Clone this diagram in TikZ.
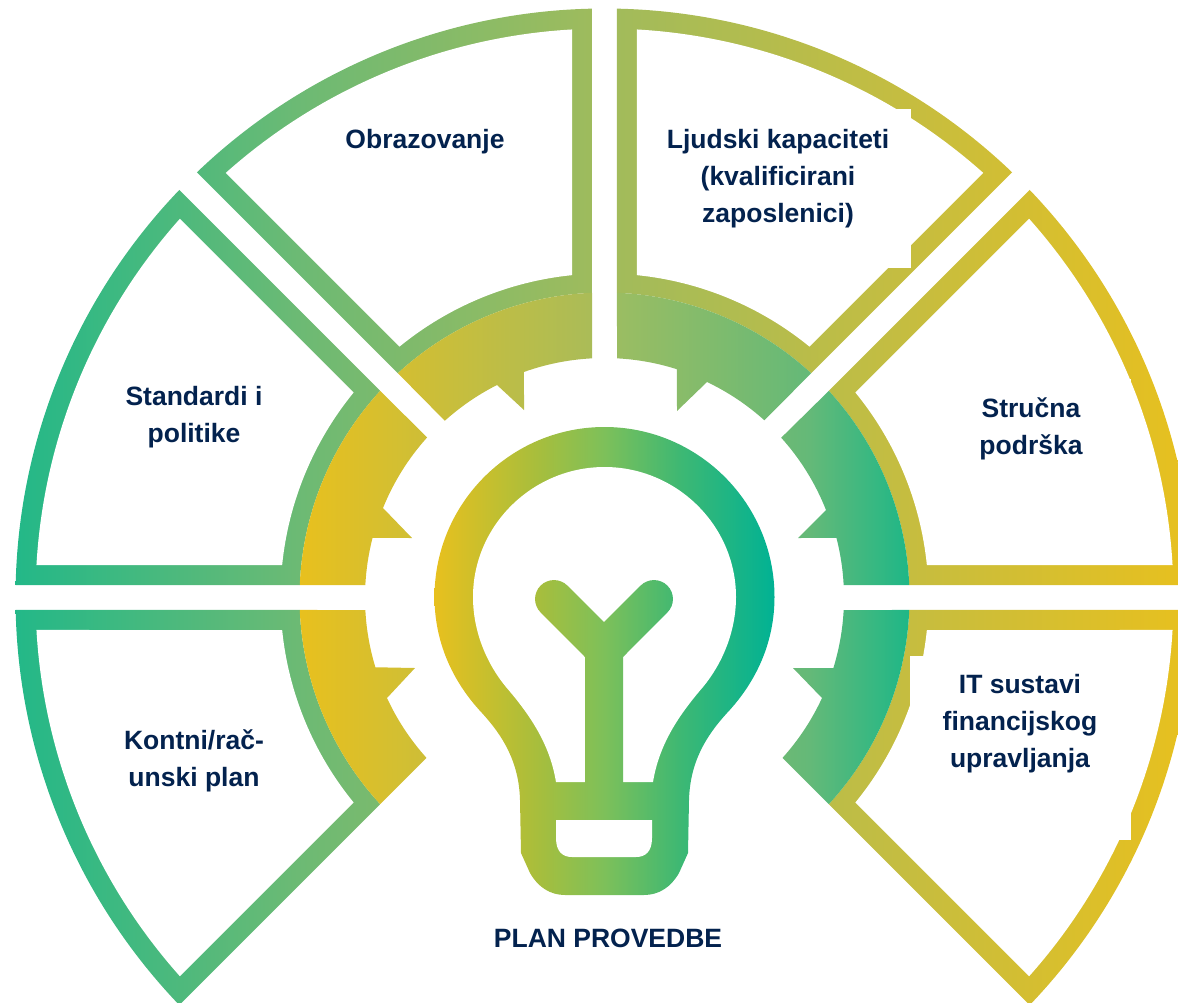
\documentclass[tikz,border=0pt]{standalone}
\usepackage{fontspec}
\setmainfont{Liberation Sans}
\definecolor{navy}{RGB}{3,34,78}
\definecolor{fa}{RGB}{35,184,136}
\definecolor{fb}{RGB}{108,186,116}
\definecolor{fc}{RGB}{160,187,92}
\definecolor{fd}{RGB}{195,189,66}
\definecolor{fe}{RGB}{232,192,30}
\definecolor{ga}{RGB}{232,192,30}
\definecolor{gb}{RGB}{170,188,88}
\definecolor{gc}{RGB}{155,189,98}
\definecolor{gd}{RGB}{100,185,120}
\definecolor{ge}{RGB}{30,183,135}
\definecolor{ba}{RGB}{232,192,30}
\definecolor{bb}{RGB}{168,190,60}
\definecolor{bc}{RGB}{125,192,90}
\definecolor{bd}{RGB}{62,184,115}
\definecolor{be}{RGB}{0,178,148}
\pgfdeclarehorizontalshading{framegrad}{100bp}{
  color(0bp)=(fa); color(25bp)=(fa); color(37bp)=(fb);
  color(50bp)=(fc); color(62bp)=(fd); color(75bp)=(fe); color(100bp)=(fe)}
\pgfdeclarehorizontalshading{geargrad}{100bp}{
  color(0bp)=(ga); color(25bp)=(ga); color(49bp)=(gb);
  color(51bp)=(gc); color(66.8bp)=(gd); color(75bp)=(ge); color(100bp)=(ge)}
\pgfdeclarehorizontalshading{bulbgrad}{100bp}{
  color(0bp)=(ba); color(25bp)=(ba); color(40bp)=(bb);
  color(50bp)=(bc); color(61bp)=(bd); color(75bp)=(be); color(100bp)=(be)}
\tikzset{
  lbl/.style={text=navy,font=\fontsize{26.5}{37}\selectfont\bfseries,align=center,inner sep=0pt},
  blank/.style={fill=white,draw=none}
}
% annular sector: #1,#2 angles, #3 outer radius, #4 inner radius, #5 offset from the axis
\newcommand\sect[5]{
  ({#3*cos(#1+asin(#5/#3))},{#3*sin(#1+asin(#5/#3))})
  arc[start angle={#1+asin(#5/#3)},end angle={#2-asin(#5/#3)},radius=#3 pt]
  -- ({#4*cos(#2-asin(#5/#4))},{#4*sin(#2-asin(#5/#4))})
  arc[start angle={#2-asin(#5/#4)},end angle={#1+asin(#5/#4)},radius=#4 pt]
  -- cycle}
\newcommand\frameseg[2]{
  \begin{scope}\clip \sect{#1}{#2}{589}{305}{12.5};
    \shade[shading=framegrad] (-590,-600) rectangle (590,600);
  \end{scope}
  \fill[blank] \sect{#1}{#2}{569}{324}{32.5};}
% gear piece: #1 axis angle, #2 diagonal angle, #3 sign, #4..#9 tooth points
\newcommand\gearseg[9]{
  \begin{scope}\clip
    ({239.5*cos(#1+#3*asin(12.5/239.5))},{239.5*sin(#1+#3*asin(12.5/239.5))})
    arc[start angle={#1+#3*asin(12.5/239.5)},end angle={atan2(#5,#4)},radius=239.5pt]
    -- (#6,#7) -- (#8,#9)
    arc[start angle={atan2(#9,#8)},end angle={#2-#3*asin(12.5/239.5)},radius=239.5pt]
    -- ({305*cos(#2-#3*asin(12.5/305))},{305*sin(#2-#3*asin(12.5/305))})
    arc[start angle={#2-#3*asin(12.5/305)},end angle={#1+#3*asin(12.5/305)},radius=305pt]
    -- cycle;
    \shade[shading=geargrad] (-305,-600) rectangle (305,600);
  \end{scope}}
\begin{document}
\begin{tikzpicture}[x=1pt,y=-1pt]
\useasboundingbox (0,0) rectangle (1178,1002);
\clip (0,0) rectangle (1178,1002);
\begin{scope}[shift={(604.5,597.5)},y=1pt]
  \frameseg{-45}{0}
  \frameseg{0}{45}
  \frameseg{45}{90}
  \frameseg{90}{135}
  \frameseg{135}{180}
  \frameseg{180}{225}
  \gearseg{0}{45}{1}{231.5}{59.5}{193.5}{59.5}{221.5}{87.5}
  \gearseg{90}{45}{-1}{72.5}{228.5}{72.5}{186.5}{102.5}{215.5}
  \gearseg{90}{135}{1}{-80.5}{225.5}{-80.5}{187.5}{-107.5}{212.5}
  \gearseg{180}{135}{-1}{-231.5}{59.5}{-192.5}{59.5}{-221.5}{89.5}
  \gearseg{-180}{-135}{1}{-231.5}{-70.5}{-189.5}{-70.5}{-217.5}{-100.5}
  \gearseg{0}{-45}{-1}{228.5}{-70.5}{188.5}{-70.5}{217.5}{-100.5}
\end{scope}
% white boxes behind the labels
\fill[blank] (700,109) rectangle (911,268);
\fill[blank] (910,656) rectangle (1131,840);
\fill[blank] (1000,379) rectangle (1131,500);
% bulb
\begin{scope}
  \clip (604.5,427) .. controls (698,427) and (774.5,503) .. (774.5,597)
    .. controls (774.5,640) and (758,680) .. (727,713)
    .. controls (706,736) and (690,762) .. (689,800)
    -- (688,853) -- (679,873) .. controls (671,887) and (659,895) .. (644,895)
    -- (565,895) .. controls (550,895) and (538,887) .. (530,873)
    -- (521,853)
    -- (520,800) .. controls (519,762) and (503,736) .. (482,713)
    .. controls (451,680) and (434.5,640) .. (434.5,597)
    .. controls (434.5,503) and (511,427) .. (604.5,427) -- cycle;
  \shade[shading=bulbgrad] (434,420) rectangle (775,900);
\end{scope}
\fill[blank] (604.5,467) .. controls (676,467) and (736,525) .. (736,597)
    .. controls (736,632) and (722,664) .. (703,687)
    .. controls (678,716) and (659,745) .. (653,782)
    -- (556,782)
    .. controls (550,745) and (531,716) .. (506,687)
    .. controls (487,664) and (473,632) .. (473,597)
    .. controls (473,525) and (533,467) .. (604.5,467) -- cycle;
\begin{scope}
  \clip (585,790) -- (585,657) -- (540.6,612.4)
    .. controls (533.2,605) and (533.2,593) .. (540.6,585.6)
    .. controls (548,578.2) and (560,578.2) .. (567.4,585.6)
    -- (604,622) -- (640.6,585.6)
    .. controls (648,578.2) and (660,578.2) .. (667.4,585.6)
    .. controls (674.8,593) and (674.8,605) .. (667.4,612.4)
    -- (623,657) -- (623,790) -- cycle;
  \shade[shading=bulbgrad] (434,420) rectangle (775,900);
\end{scope}
\fill[blank] (556,820) -- (652,820) -- (652,838)
    .. controls (652,852) and (645,857) .. (636,857) -- (572,857)
    .. controls (563,857) and (556,852) .. (556,838) -- cycle;
% labels
\node[lbl] (obrazovanje) at (425,142) {Obrazovanje};
\node[lbl] (ljudski) at (778,178.5) {Ljudski kapaciteti\\(kvalificirani\\zaposlenici)};
\node[lbl] (standardi) at (194,417.5) {Standardi i\\politike};
\node[lbl] (strucna) at (1031,428.5) {Stručna\\podrška};
\node[lbl] (it) at (1020,724) {IT sustavi\\financijskog\\upravljanja};
\node[lbl] (kontni) at (194,761) {Kontni/rač-\\unski plan};
\node[lbl] (plan) at (608,938) {PLAN PROVEDBE};
\end{tikzpicture}
\end{document}
